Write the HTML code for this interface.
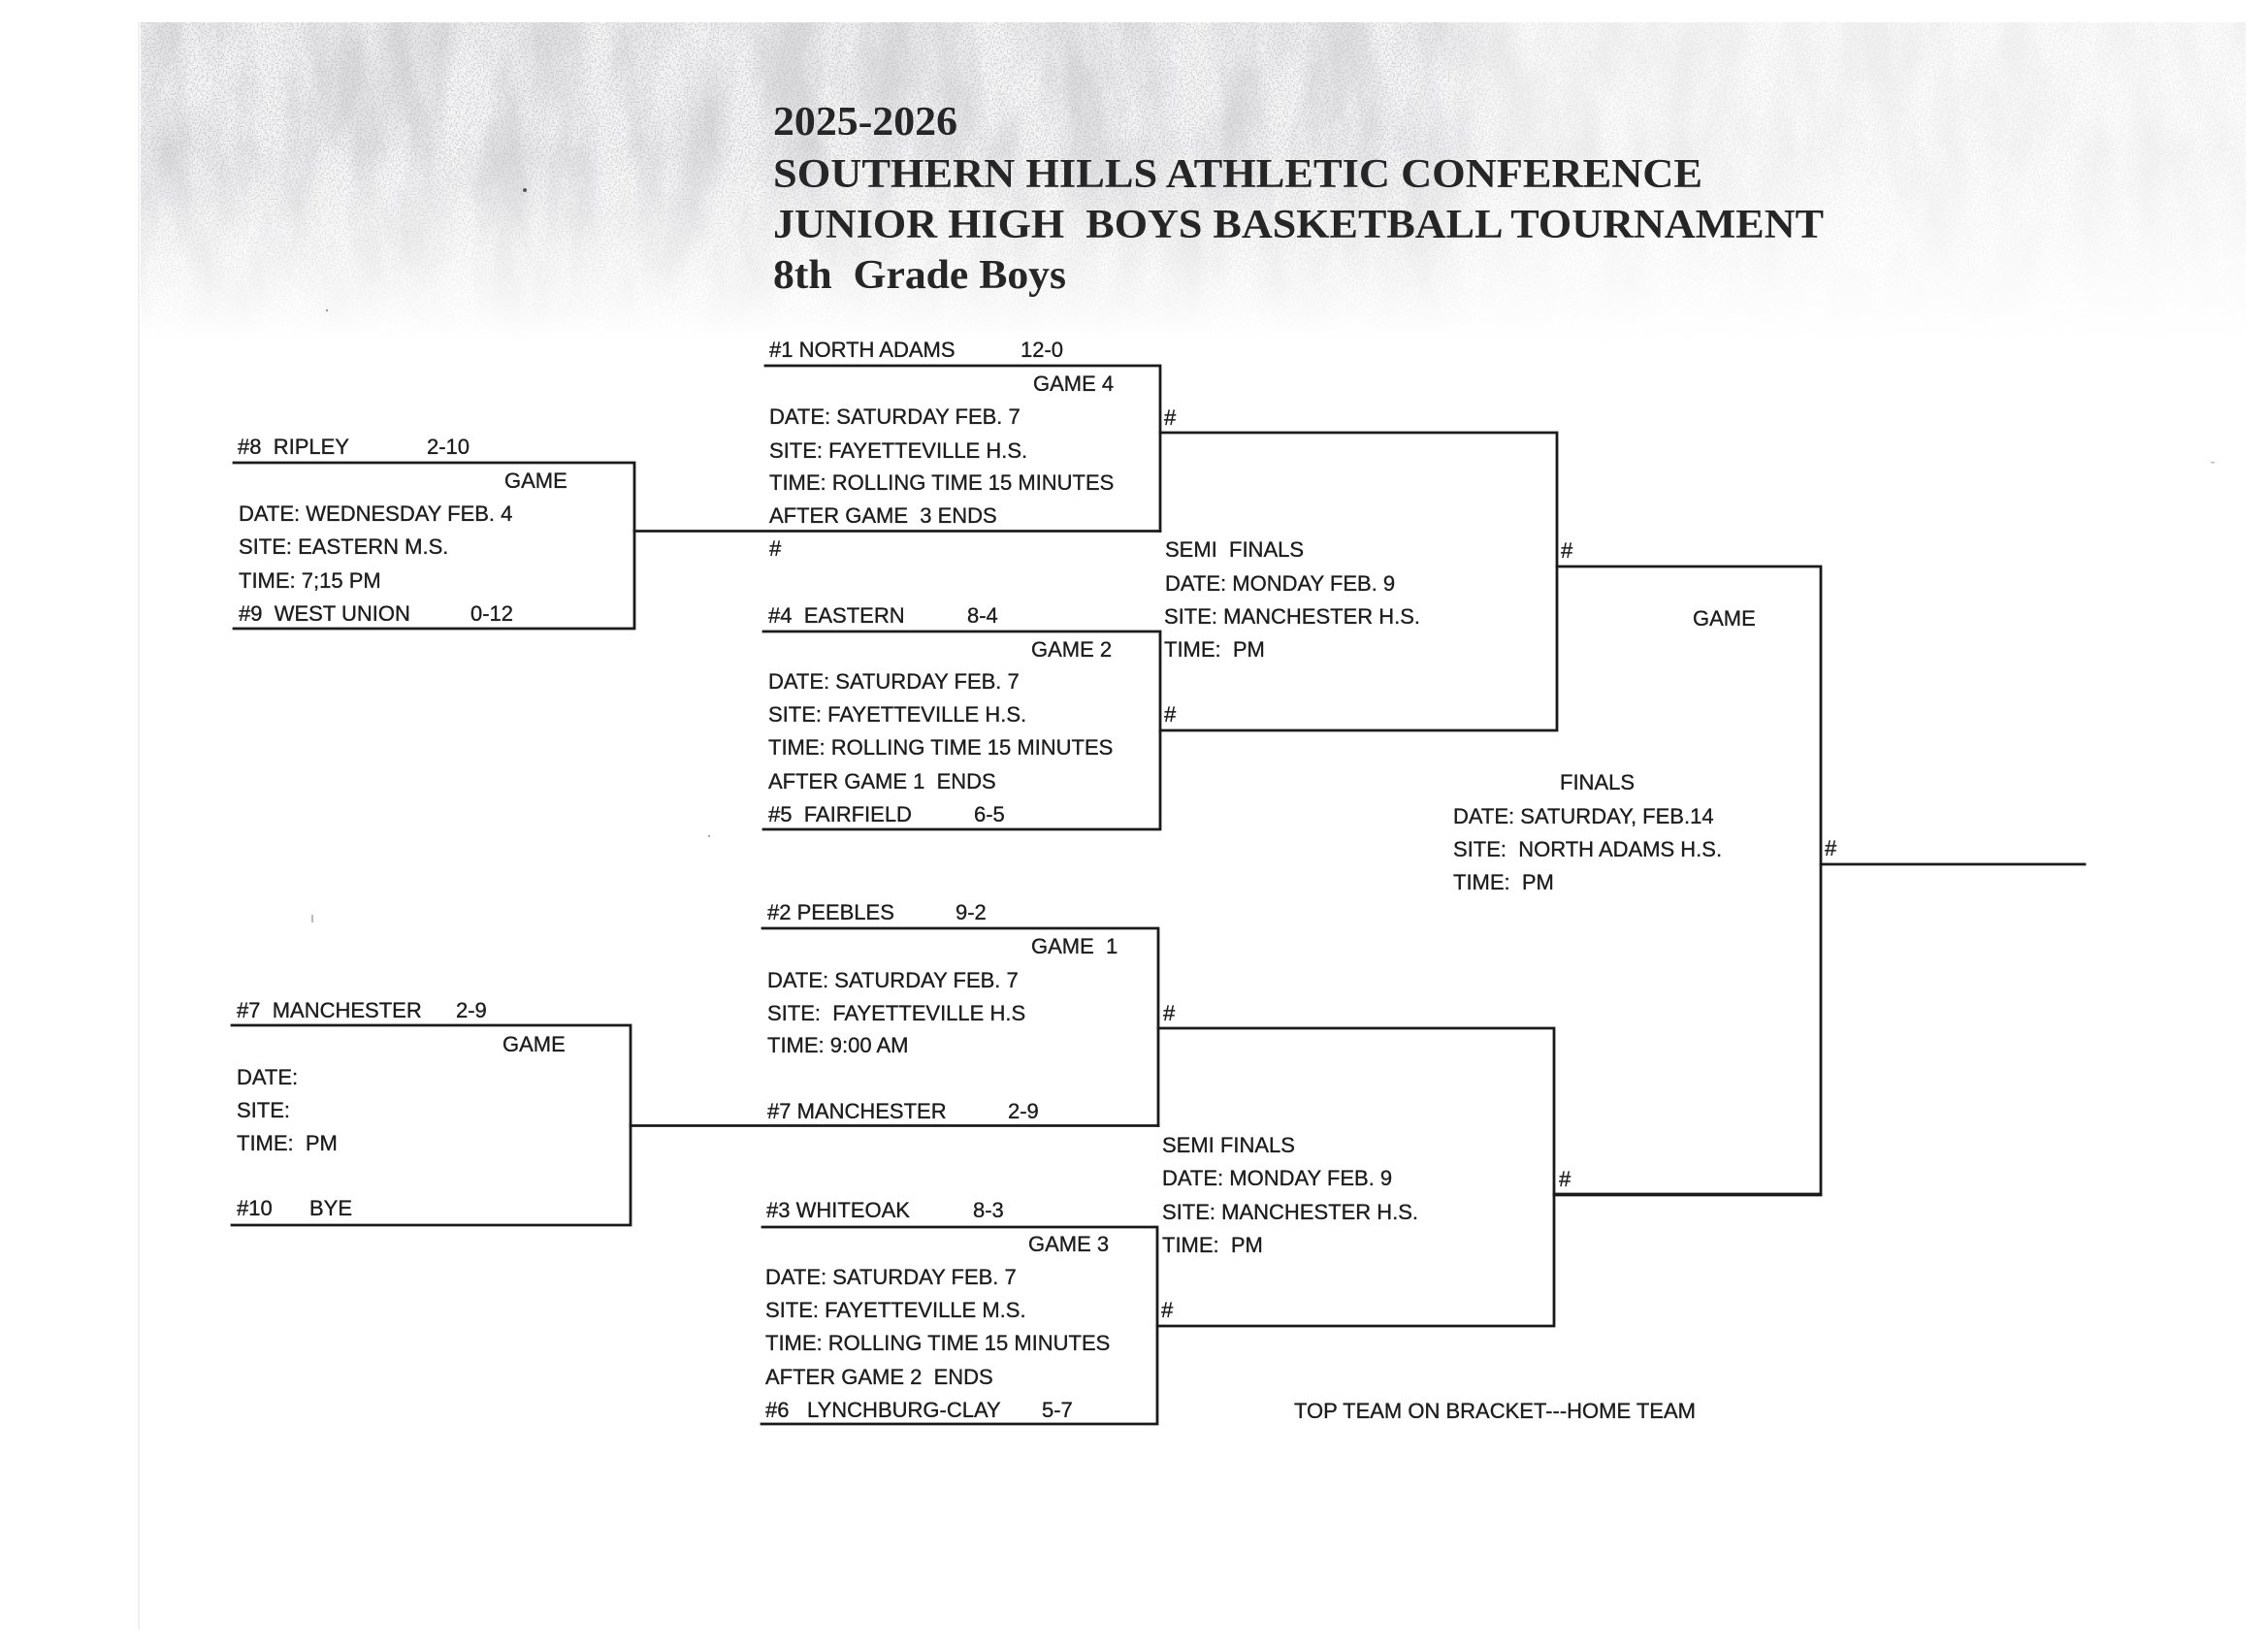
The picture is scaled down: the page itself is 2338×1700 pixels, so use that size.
<!DOCTYPE html>
<html>
<head>
<meta charset="utf-8">
<style>
  html,body{margin:0;padding:0;background:#fff;}
  svg{display:block;}
  .b{font-family:"Liberation Sans",Arial,sans-serif;font-size:22px;fill:#1e1e1e;stroke:#1e1e1e;stroke-width:0.35;white-space:pre;}
  .t{font-family:"Liberation Serif","Times New Roman",serif;font-weight:bold;font-size:42px;fill:#262626;white-space:pre;}
  .ln{stroke:#1b1b1b;stroke-width:2.8;fill:none;stroke-linecap:square;}
</style>
</head>
<body>
<svg width="2338" height="1700" viewBox="0 0 2338 1700" xmlns="http://www.w3.org/2000/svg" xml:space="preserve">
  <defs>
    <filter id="blot" x="0" y="0" width="100%" height="100%" filterUnits="userSpaceOnUse">
      <feTurbulence type="fractalNoise" baseFrequency="0.02 0.007" numOctaves="4" seed="7"/>
      <feColorMatrix type="matrix" values="0 0 0 0 0.55  0 0 0 0 0.55  0 0 0 0 0.57  2.4 0 0 0 -0.85"/>
    </filter>
    <filter id="speck" x="0" y="0" width="100%" height="100%" filterUnits="userSpaceOnUse">
      <feTurbulence type="fractalNoise" baseFrequency="0.6" numOctaves="1" seed="3"/>
      <feColorMatrix type="matrix" values="0 0 0 0 0.5  0 0 0 0 0.5  0 0 0 0 0.52  6 0 0 0 -2.9"/>
    </filter>
    <linearGradient id="fv" x1="0" y1="0" x2="0" y2="1">
      <stop offset="0" stop-color="#fff"/>
      <stop offset="0.4" stop-color="#fff"/>
      <stop offset="0.7" stop-color="#888"/>
      <stop offset="1" stop-color="#000"/>
    </linearGradient>
    <linearGradient id="fh" x1="0" y1="0" x2="1" y2="0">
      <stop offset="0" stop-color="#fff"/>
      <stop offset="0.6" stop-color="#eee"/>
      <stop offset="0.66" stop-color="#777"/>
      <stop offset="1" stop-color="#555"/>
    </linearGradient>
    <mask id="mv" maskUnits="userSpaceOnUse" x="0" y="0" width="2338" height="1700">
      <rect x="145" y="23" width="2170" height="330" fill="url(#fv)"/>
    </mask>
    <mask id="mh" maskUnits="userSpaceOnUse" x="0" y="0" width="2338" height="1700">
      <rect x="145" y="23" width="2170" height="330" fill="url(#fh)"/>
    </mask>
  </defs>

  <rect x="0" y="0" width="2338" height="1700" fill="#fff"/>

  <!-- scan noise band -->
  <g mask="url(#mv)">
    <g mask="url(#mh)">
      <rect x="145" y="23" width="2170" height="330" fill="#b8b8ba" opacity="0.15"/>
      <rect x="145" y="23" width="2170" height="330" filter="url(#blot)" opacity="0.55"/>
      <rect x="145" y="23" width="2170" height="330" filter="url(#speck)" opacity="0.6"/>
    </g>
  </g>

  <!-- faint scan edge line -->
  <line x1="143" y1="23" x2="143" y2="1680" stroke="#ececec" stroke-width="1.5"/>
  <!-- specks -->
  <circle cx="541" cy="196" r="2" fill="#555"/>
  <circle cx="337" cy="320" r="1.2" fill="#999"/>
  <rect x="321" y="943" width="2" height="8" fill="#bbb"/>
  <circle cx="731" cy="862" r="1.2" fill="#aaa"/>
  <rect x="2279" y="476" width="4" height="1.5" fill="#bbb"/>

  <!-- Title -->
  <text class="t" x="797" y="139" textLength="190" lengthAdjust="spacingAndGlyphs">2025-2026</text>
  <text class="t" x="797" y="193" textLength="958" lengthAdjust="spacingAndGlyphs">SOUTHERN HILLS ATHLETIC CONFERENCE</text>
  <text class="t" x="797" y="245" textLength="1083" lengthAdjust="spacingAndGlyphs">JUNIOR HIGH  BOYS BASKETBALL TOURNAMENT</text>
  <text class="t" x="797" y="297" textLength="302" lengthAdjust="spacingAndGlyphs">8th  Grade Boys</text>

  <!-- ===== Lines ===== -->
  <g class="ln">
    <path d="M241 477 H654 V648 H241"/>
    <path d="M654 547.5 H1196"/>
    <path d="M789 377 H1196 V547.5"/>
    <path d="M787 651 H1196 V855 H787"/>
    <path d="M1196 446 H1605 V753 H1196"/>
    <path d="M1605 584 H1877 V1231 H1602"/>
    <path d="M1877 891 H2149"/>
    <path d="M239 1057 H650 V1263 H239"/>
    <path d="M650 1160.5 H1194"/>
    <path d="M786 957 H1194 V1160.5"/>
    <path d="M1194 1060 H1602 V1367 H1193"/>
    <path d="M1602 1232 H1877"/>
    <path d="M786 1265 H1193 V1468 H785"/>
  </g>

  <!-- ===== Ripley box text ===== -->
  <text class="b" x="245" y="468">#8  RIPLEY</text>
  <text class="b" x="440" y="468">2-10</text>
  <text class="b" x="520" y="503">GAME</text>
  <text class="b" x="246" y="537">DATE: WEDNESDAY FEB. 4</text>
  <text class="b" x="246" y="571">SITE: EASTERN M.S.</text>
  <text class="b" x="246" y="606">TIME: 7;15 PM</text>
  <text class="b" x="246" y="640">#9  WEST UNION</text>
  <text class="b" x="485" y="640">0-12</text>

  <!-- ===== Game 4 ===== -->
  <text class="b" x="793" y="368">#1 NORTH ADAMS</text>
  <text class="b" x="1052" y="368">12-0</text>
  <text class="b" x="1065" y="403">GAME 4</text>
  <text class="b" x="793" y="437">DATE: SATURDAY FEB. 7</text>
  <text class="b" x="793" y="472">SITE: FAYETTEVILLE H.S.</text>
  <text class="b" x="793" y="505">TIME: ROLLING TIME 15 MINUTES</text>
  <text class="b" x="793" y="539">AFTER GAME  3 ENDS</text>
  <text class="b" x="793" y="573">#</text>

  <!-- ===== Semi 1 ===== -->
  <text class="b" x="1200" y="438">#</text>
  <text class="b" x="1201" y="574">SEMI  FINALS</text>
  <text class="b" x="1201" y="609">DATE: MONDAY FEB. 9</text>
  <text class="b" x="1200" y="643">SITE: MANCHESTER H.S.</text>
  <text class="b" x="1200" y="677">TIME:  PM</text>
  <text class="b" x="1200" y="744">#</text>

  <!-- ===== Game 2 ===== -->
  <text class="b" x="792" y="642">#4  EASTERN</text>
  <text class="b" x="997" y="642">8-4</text>
  <text class="b" x="1063" y="677">GAME 2</text>
  <text class="b" x="792" y="710">DATE: SATURDAY FEB. 7</text>
  <text class="b" x="792" y="744">SITE: FAYETTEVILLE H.S.</text>
  <text class="b" x="792" y="778">TIME: ROLLING TIME 15 MINUTES</text>
  <text class="b" x="792" y="813">AFTER GAME 1  ENDS</text>
  <text class="b" x="792" y="847">#5  FAIRFIELD</text>
  <text class="b" x="1004" y="847">6-5</text>

  <!-- ===== Finals ===== -->
  <text class="b" x="1609" y="575">#</text>
  <text class="b" x="1745" y="645">GAME</text>
  <text class="b" x="1608" y="814">FINALS</text>
  <text class="b" x="1498" y="849">DATE: SATURDAY, FEB.14</text>
  <text class="b" x="1498" y="883">SITE:  NORTH ADAMS H.S.</text>
  <text class="b" x="1498" y="917">TIME:  PM</text>
  <text class="b" x="1881" y="882">#</text>
  <text class="b" x="1607" y="1223">#</text>

  <!-- ===== Game 1 ===== -->
  <text class="b" x="791" y="948">#2 PEEBLES</text>
  <text class="b" x="985" y="948">9-2</text>
  <text class="b" x="1063" y="983">GAME  1</text>
  <text class="b" x="791" y="1018">DATE: SATURDAY FEB. 7</text>
  <text class="b" x="791" y="1052">SITE:  FAYETTEVILLE H.S</text>
  <text class="b" x="791" y="1085">TIME: 9:00 AM</text>
  <text class="b" x="791" y="1153">#7 MANCHESTER</text>
  <text class="b" x="1039" y="1153">2-9</text>

  <!-- ===== Manchester box ===== -->
  <text class="b" x="244" y="1049">#7  MANCHESTER</text>
  <text class="b" x="470" y="1049">2-9</text>
  <text class="b" x="518" y="1084">GAME</text>
  <text class="b" x="244" y="1118">DATE:</text>
  <text class="b" x="244" y="1152">SITE:</text>
  <text class="b" x="244" y="1186">TIME:  PM</text>
  <text class="b" x="244" y="1253">#10</text>
  <text class="b" x="319" y="1253">BYE</text>

  <!-- ===== Semi 2 ===== -->
  <text class="b" x="1199" y="1052">#</text>
  <text class="b" x="1198" y="1188">SEMI FINALS</text>
  <text class="b" x="1198" y="1222">DATE: MONDAY FEB. 9</text>
  <text class="b" x="1198" y="1257">SITE: MANCHESTER H.S.</text>
  <text class="b" x="1198" y="1291">TIME:  PM</text>
  <text class="b" x="1197" y="1358">#</text>

  <!-- ===== Game 3 ===== -->
  <text class="b" x="790" y="1255">#3 WHITEOAK</text>
  <text class="b" x="1003" y="1255">8-3</text>
  <text class="b" x="1060" y="1290">GAME 3</text>
  <text class="b" x="789" y="1324">DATE: SATURDAY FEB. 7</text>
  <text class="b" x="789" y="1358">SITE: FAYETTEVILLE M.S.</text>
  <text class="b" x="789" y="1392">TIME: ROLLING TIME 15 MINUTES</text>
  <text class="b" x="789" y="1427">AFTER GAME 2  ENDS</text>
  <text class="b" x="789" y="1461">#6</text>
  <text class="b" x="832" y="1461">LYNCHBURG-CLAY</text>
  <text class="b" x="1074" y="1461">5-7</text>

  <text class="b" x="1334" y="1462">TOP TEAM ON BRACKET---HOME TEAM</text>
</svg>
</body>
</html>
